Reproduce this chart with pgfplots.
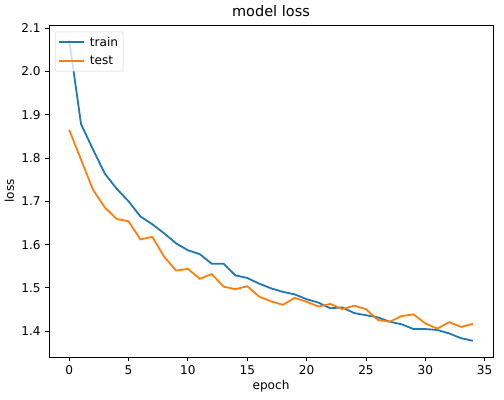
\documentclass[border=0pt]{standalone}
\usepackage{fontspec}
\setmainfont{DejaVu Sans}
\usepackage{pgfplots}
\pgfplotsset{compat=1.18}
\definecolor{c0}{HTML}{1F77B4}
\definecolor{c1}{HTML}{FF7F0E}
\begin{document}
\fontsize{12.1bp}{14.5bp}\selectfont
\begin{tikzpicture}
\begin{axis}[
  name=ax,
  scale only axis,
  width=444bp, height=332bp,
  xmin=-1.7, xmax=35.7,
  ymin=1.3405, ymax=2.107,
  xtick={0,5,...,35},
  ytick={1.4,1.5,1.6,1.7,1.8,1.9,2.0,2.1},
  /pgf/number format/assume math mode=true,
  yticklabel style={/pgf/number format/fixed,/pgf/number format/fixed zerofill,/pgf/number format/precision=1},
  xticklabel style={/pgf/number format/fixed},
  ticklabel style={font=\fontsize{12.1bp}{14.5bp}\selectfont},
  tick align=outside,
  major tick length=4.2bp,
  tick style={line width=0.95bp, black},
  axis line style={line width=0.95bp},
  xtick pos=bottom, ytick pos=left,
  title={\fontsize{14.5bp}{17bp}\selectfont model loss},
  title style={yshift=-2bp},
  xlabel={epoch}, ylabel={loss},
  every axis label/.append style={font=\fontsize{12.1bp}{14.5bp}\selectfont},
  xlabel style={yshift=3bp},
  ylabel style={yshift=-1bp},
  legend style={draw=gray!35, rounded corners=2bp, fill=white, fill opacity=0.8, text opacity=1, draw opacity=1, font=\fontsize{12.1bp}{14.5bp}\selectfont, at={(0.0135,0.98)}, anchor=north west, inner xsep=3bp, inner ysep=3bp, row sep=4bp, column sep=3bp},
  legend cell align=left,
  legend image code/.code={\draw[#1, line width=1.8bp] (0bp,0bp) -- (25bp,0bp);},
]
\addplot[c0, line width=1.8bp] coordinates {
(0,2.073) (1,1.878) (2,1.820) (3,1.764) (4,1.729) (5,1.700) (6,1.665) (7,1.647)
(8,1.626) (9,1.603) (10,1.587) (11,1.578) (12,1.556) (13,1.556) (14,1.529)
(15,1.523) (16,1.510) (17,1.499) (18,1.491) (19,1.485) (20,1.474) (21,1.466)
(22,1.453) (23,1.455) (24,1.442) (25,1.437) (26,1.432) (27,1.422) (28,1.416)
(29,1.405) (30,1.405) (31,1.403) (32,1.395) (33,1.384) (34,1.378)
};
\addlegendentry{train}
\addplot[c1, line width=1.8bp] coordinates {
(0,1.865) (1,1.796) (2,1.727) (3,1.686) (4,1.659) (5,1.654) (6,1.612) (7,1.618)
(8,1.572) (9,1.540) (10,1.544) (11,1.521) (12,1.532) (13,1.503) (14,1.497)
(15,1.504) (16,1.480) (17,1.469) (18,1.461) (19,1.477) (20,1.468) (21,1.457)
(22,1.463) (23,1.451) (24,1.459) (25,1.451) (26,1.426) (27,1.422) (28,1.435)
(29,1.439) (30,1.418) (31,1.406) (32,1.421) (33,1.410) (34,1.417)
};
\addlegendentry{test}
\end{axis}
\pgfresetboundingbox
\path[use as bounding box] ([shift={(-49bp,-42bp)}]ax.south west) rectangle ([shift={(11bp,25bp)}]ax.north east);
\end{tikzpicture}
\end{document}
